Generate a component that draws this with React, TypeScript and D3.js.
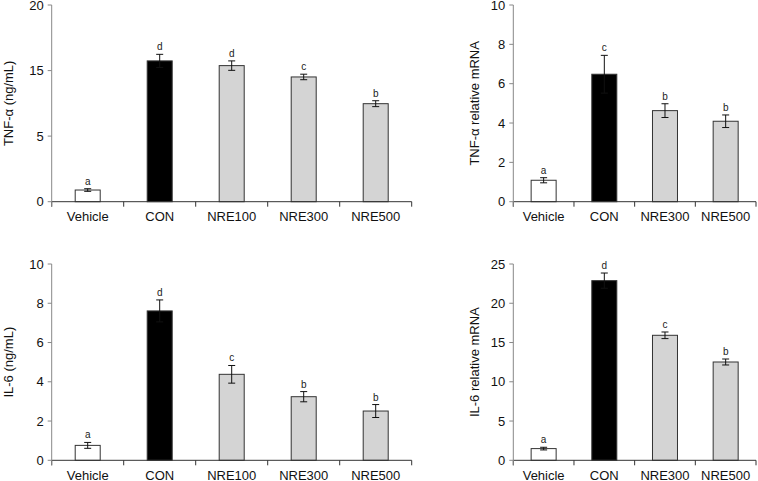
import React from "react";
import * as d3 from "d3";

const catsA = ["Vehicle", "CON", "NRE100", "NRE300", "NRE500"];
const catsB = ["Vehicle", "CON", "NRE300", "NRE500"];
const fills = ["#ffffff", "#000000", "#d4d4d4", "#d4d4d4", "#d4d4d4"];

// Panel A: TNF-α (ng/mL)
const tnfProtein = [0.89, 15.74, 15.38, 14.03, 9.95];
const tnfProteinErr = [0.1, 0.5, 0.36, 0.42, 0.45];
const tnfProteinLetters = ["a", "d", "d", "c", "b"];
const tnfProteinTicks = [0, 5, 15, 20];

// Panel B: TNF-α relative mRNA
const tnfMrna = [1.09, 6.48, 4.63, 4.09];
const tnfMrnaErr = [0.13, 0.96, 0.35, 0.32];
const tnfMrnaLetters = ["a", "c", "b", "b"];
const tnfMrnaTicks = [0, 2, 4, 6, 8, 10];

// Panel C: IL-6 (ng/mL)
const il6Protein = [0.76, 7.61, 4.38, 3.24, 2.51];
const il6ProteinErr = [0.15, 0.56, 0.45, 0.26, 0.33];
const il6ProteinLetters = ["a", "d", "c", "b", "b"];
const il6ProteinTicks = [0, 2, 4, 6, 8, 10];

// Panel D: IL-6 relative mRNA
const il6Mrna = [1.49, 22.88, 15.92, 12.52];
const il6MrnaErr = [0.17, 0.97, 0.42, 0.38];
const il6MrnaLetters = ["a", "d", "c", "b"];
const il6MrnaTicks = [0, 5, 10, 15, 20, 25];

const FONT = "Arial, 'Liberation Sans', Helvetica, sans-serif";

type PanelProps = {
  cats: string[];
  values: number[];
  errs: number[];
  letters: string[];
  ticks: number[];
  yScale: d3.ScaleLinear<number, number>;
  x0: number;
  x1: number;
  title: string;
  titleX: number;
};

function Panel({ cats, values, errs, letters, ticks, yScale, x0, x1, title, titleX }: PanelProps) {
  const x = d3.scaleBand<string>().domain(cats).range([x0, x1]).padding(0);
  const base = yScale(0);
  const top = yScale(ticks[ticks.length - 1]);
  const barW = 25;
  const cap = 3.5;
  const boundaries = cats.map((c) => (x(c) as number) + x.step()).concat([x0]);
  return (
    <g>
      {cats.map((c, i) => {
        const cx = (x(c) as number) + x.bandwidth() / 2;
        const yv = yScale(values[i]);
        const yTop = yScale(values[i] + errs[i]);
        const yBot = yScale(values[i] - errs[i]);
        return (
          <g key={c}>
            <rect
              x={cx - barW / 2}
              y={yv}
              width={barW}
              height={base - yv}
              fill={fills[i]}
              stroke="#333"
              strokeWidth={1}
            />
            <line x1={cx} x2={cx} y1={yTop} y2={yBot} stroke="#111" strokeWidth={1} />
            <line x1={cx - cap} x2={cx + cap} y1={yTop} y2={yTop} stroke="#111" strokeWidth={1} />
            <line x1={cx - cap} x2={cx + cap} y1={yBot} y2={yBot} stroke="#111" strokeWidth={1} />
            <text x={cx} y={yTop - 4} textAnchor="middle" fontSize={10} fontFamily={FONT} fill="#222">
              {letters[i]}
            </text>
            <text x={cx} y={base + 19.5} textAnchor="middle" fontSize={13} fontFamily={FONT} fill="#111">
              {c}
            </text>
          </g>
        );
      })}
      {/* x axis */}
      <line x1={x0} x2={x1} y1={base} y2={base} stroke="#333" strokeWidth={1} />
      {boundaries.map((b, i) => (
        <line key={i} x1={b} x2={b} y1={base} y2={base + 5} stroke="#333" strokeWidth={1} />
      ))}
      {/* y axis */}
      <line x1={x0} x2={x0} y1={top} y2={base + 5} stroke="#888" strokeWidth={1} />
      {ticks.map((t) => (
        <g key={t}>
          <line x1={x0 - 4} x2={x0} y1={yScale(t)} y2={yScale(t)} stroke="#888" strokeWidth={1} />
          <text x={x0 - 8} y={yScale(t)} dy="0.35em" textAnchor="end" fontSize={13} fontFamily={FONT} fill="#111">
            {t}
          </text>
        </g>
      ))}
      <text
        transform={`translate(${titleX},${(top + base) / 2}) rotate(-90)`}
        textAnchor="middle"
        dy="0.35em"
        fontSize={13}
        fontFamily={FONT}
        fill="#111"
      >
        {title}
      </text>
    </g>
  );
}

export default function App() {
  const yA = d3
    .scaleLinear()
    .domain(tnfProteinTicks)
    .range([201.7, 136.1, 70.6, 5]);
  const yB = d3.scaleLinear().domain([0, 10]).range([201.7, 5]);
  const yC = d3.scaleLinear().domain([0, 10]).range([460.3, 264]);
  const yD = d3.scaleLinear().domain([0, 25]).range([460.3, 264]);
  return (
    <svg
      width={758}
      height={481}
      style={{ position: "absolute", left: 0, top: 0, background: "#fff" }}
    >
      <rect x={0} y={0} width={758} height={481} fill="#fff" />
      <Panel
        cats={catsA}
        values={tnfProtein}
        errs={tnfProteinErr}
        letters={tnfProteinLetters}
        ticks={tnfProteinTicks}
        yScale={yA}
        x0={51.7}
        x1={411.7}
        title="TNF-α (ng/mL)"
        titleX={8}
      />
      <Panel
        cats={catsB}
        values={tnfMrna}
        errs={tnfMrnaErr}
        letters={tnfMrnaLetters}
        ticks={tnfMrnaTicks}
        yScale={yB}
        x0={513.3}
        x1={756}
        title="TNF-α relative mRNA"
        titleX={474}
      />
      <Panel
        cats={catsA}
        values={il6Protein}
        errs={il6ProteinErr}
        letters={il6ProteinLetters}
        ticks={il6ProteinTicks}
        yScale={yC}
        x0={51.7}
        x1={411.7}
        title="IL-6 (ng/mL)"
        titleX={8}
      />
      <Panel
        cats={catsB}
        values={il6Mrna}
        errs={il6MrnaErr}
        letters={il6MrnaLetters}
        ticks={il6MrnaTicks}
        yScale={yD}
        x0={513.3}
        x1={756}
        title="IL-6 relative mRNA"
        titleX={474}
      />
    </svg>
  );
}
